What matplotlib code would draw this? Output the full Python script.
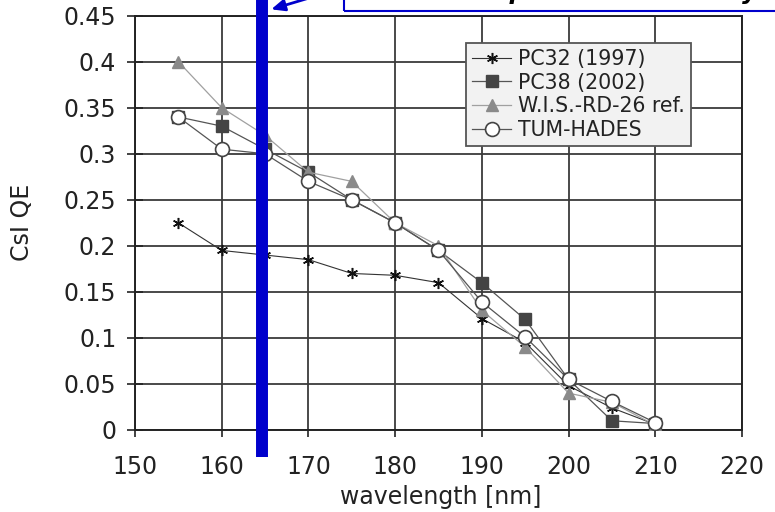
import matplotlib
matplotlib.use("Agg")
import matplotlib.pyplot as plt

wavelength = [155, 160, 165, 170, 175, 180, 185, 190, 195, 200, 205, 210]
pc32 = [0.225, 0.195, 0.19, 0.185, 0.17, 0.168, 0.16, 0.121, 0.095, 0.048, 0.024, 0.006]
pc38 = [0.34, 0.33, 0.305, 0.28, 0.25, 0.225, 0.195, 0.16, 0.12, 0.055, 0.01, 0.007]
wis = [0.40, 0.35, 0.32, 0.28, 0.27, 0.225, 0.20, 0.13, 0.09, 0.04, 0.03, 0.005]
tum = [0.34, 0.305, 0.30, 0.27, 0.25, 0.225, 0.195, 0.139, 0.101, 0.055, 0.031, 0.008]

series_names = ["PC32 (1997)", "PC38 (2002)", "W.I.S.-RD-26 ref.", "TUM-HADES"]
xticks = [150, 160, 170, 180, 190, 200, 210, 220]
yticks = [0, 0.05, 0.1, 0.15, 0.2, 0.25, 0.3, 0.35, 0.4, 0.45]
ytick_labels = ["0", "0.05", "0.1", "0.15", "0.2", "0.25", "0.3", "0.35", "0.4", "0.45"]
cut_wavelength = 164.7
note_text = "the best quantum efficiency here"

plt.rcParams['font.family'] = ['DejaVu Sans']

fig = plt.figure(figsize=(7.75, 5.12), dpi=100)
ax = fig.add_axes([0.1742, 0.1602, 0.7832, 0.8092])

ax.set_xlim(150, 220)
ax.set_ylim(0, 0.45)
ax.set_xticks(xticks)
ax.set_yticks(yticks)
ax.set_yticklabels(ytick_labels)
ax.grid(True, color='#3a3a3a', lw=1.3)
ax.set_axisbelow(True)
for s in ax.spines.values():
    s.set_color('#222222')
    s.set_linewidth(1.4)

ax.tick_params(axis='x', direction='out', length=5, width=1.2, pad=13,
               labelsize=17, colors='#222222')
ax.tick_params(axis='y', direction='inout', length=11, width=1.2, pad=8,
               labelsize=17, colors='#222222')

ax.plot(wavelength, pc32, color='#333333', lw=0.8, marker=(6, 2, 0), ms=8,
        mew=1.1, mec='#111111', label=series_names[0], zorder=3)
ax.plot(wavelength, pc38, color='#555555', lw=0.9, marker='s', ms=8,
        mfc='#444444', mec='#444444', label=series_names[1], zorder=4)
ax.plot(wavelength, wis, color='#a0a0a0', lw=0.9, marker='^', ms=9,
        mfc='#8a8a8a', mec='#8a8a8a', label=series_names[2], zorder=5)
ax.plot(wavelength, tum, color='#555555', lw=0.9, marker='o', ms=10,
        mfc='white', mec='#444444', mew=1.2, label=series_names[3], zorder=6)

leg = ax.legend(loc='upper left', bbox_to_anchor=(466 / 775, 1 - 42.7 / 512),
                bbox_transform=fig.transFigure, borderaxespad=0,
                fontsize=14.8, frameon=True, fancybox=False, handlelength=1.9,
                handletextpad=0.35, labelspacing=0.18, borderpad=0.3)
leg.get_frame().set_facecolor('#f2f2f2')
leg.get_frame().set_edgecolor('#555555')
leg.get_frame().set_linewidth(1.3)
leg.get_frame().set_alpha(1)
leg.set_zorder(10)
for t in leg.get_texts():
    t.set_color('#222222')

ax.set_xlabel("wavelength [nm]", fontsize=17, color='#222222')
ax.set_ylabel("CsI QE", fontsize=17, color='#222222')
ax.xaxis.label.set_va('center')
ax.xaxis.set_label_coords(0.503, -0.1617)
ax.yaxis.label.set_va('center')
ax.yaxis.set_label_coords(-0.186, 0.5)

# blue cut line
ax.axvline(cut_wavelength, ymin=-0.065, ymax=1.2, color='#0000cc', lw=8.6,
           clip_on=False, zorder=12, solid_capstyle='butt')

# arrow and note box
ax.annotate("", xy=(165.4, 0.456), xytext=(172.5, 0.476),
            xycoords='data', textcoords='data', annotation_clip=False,
            arrowprops=dict(arrowstyle='-|>,head_length=0.8,head_width=0.35',
                            color='#0000cc', lw=2.0), zorder=13)
box = plt.Rectangle((174.1, 0.4554), 60, 0.1, fill=False, edgecolor='#0000cc',
                    lw=1.5, clip_on=False, transform=ax.transData, zorder=13)
ax.add_patch(box)
ax.text(178.5, 0.4685, note_text, fontsize=17, fontweight='bold',
        fontstyle='italic', color='black', va='baseline', ha='left',
        clip_on=False, zorder=14)

fig.savefig("out.png", dpi=100)
